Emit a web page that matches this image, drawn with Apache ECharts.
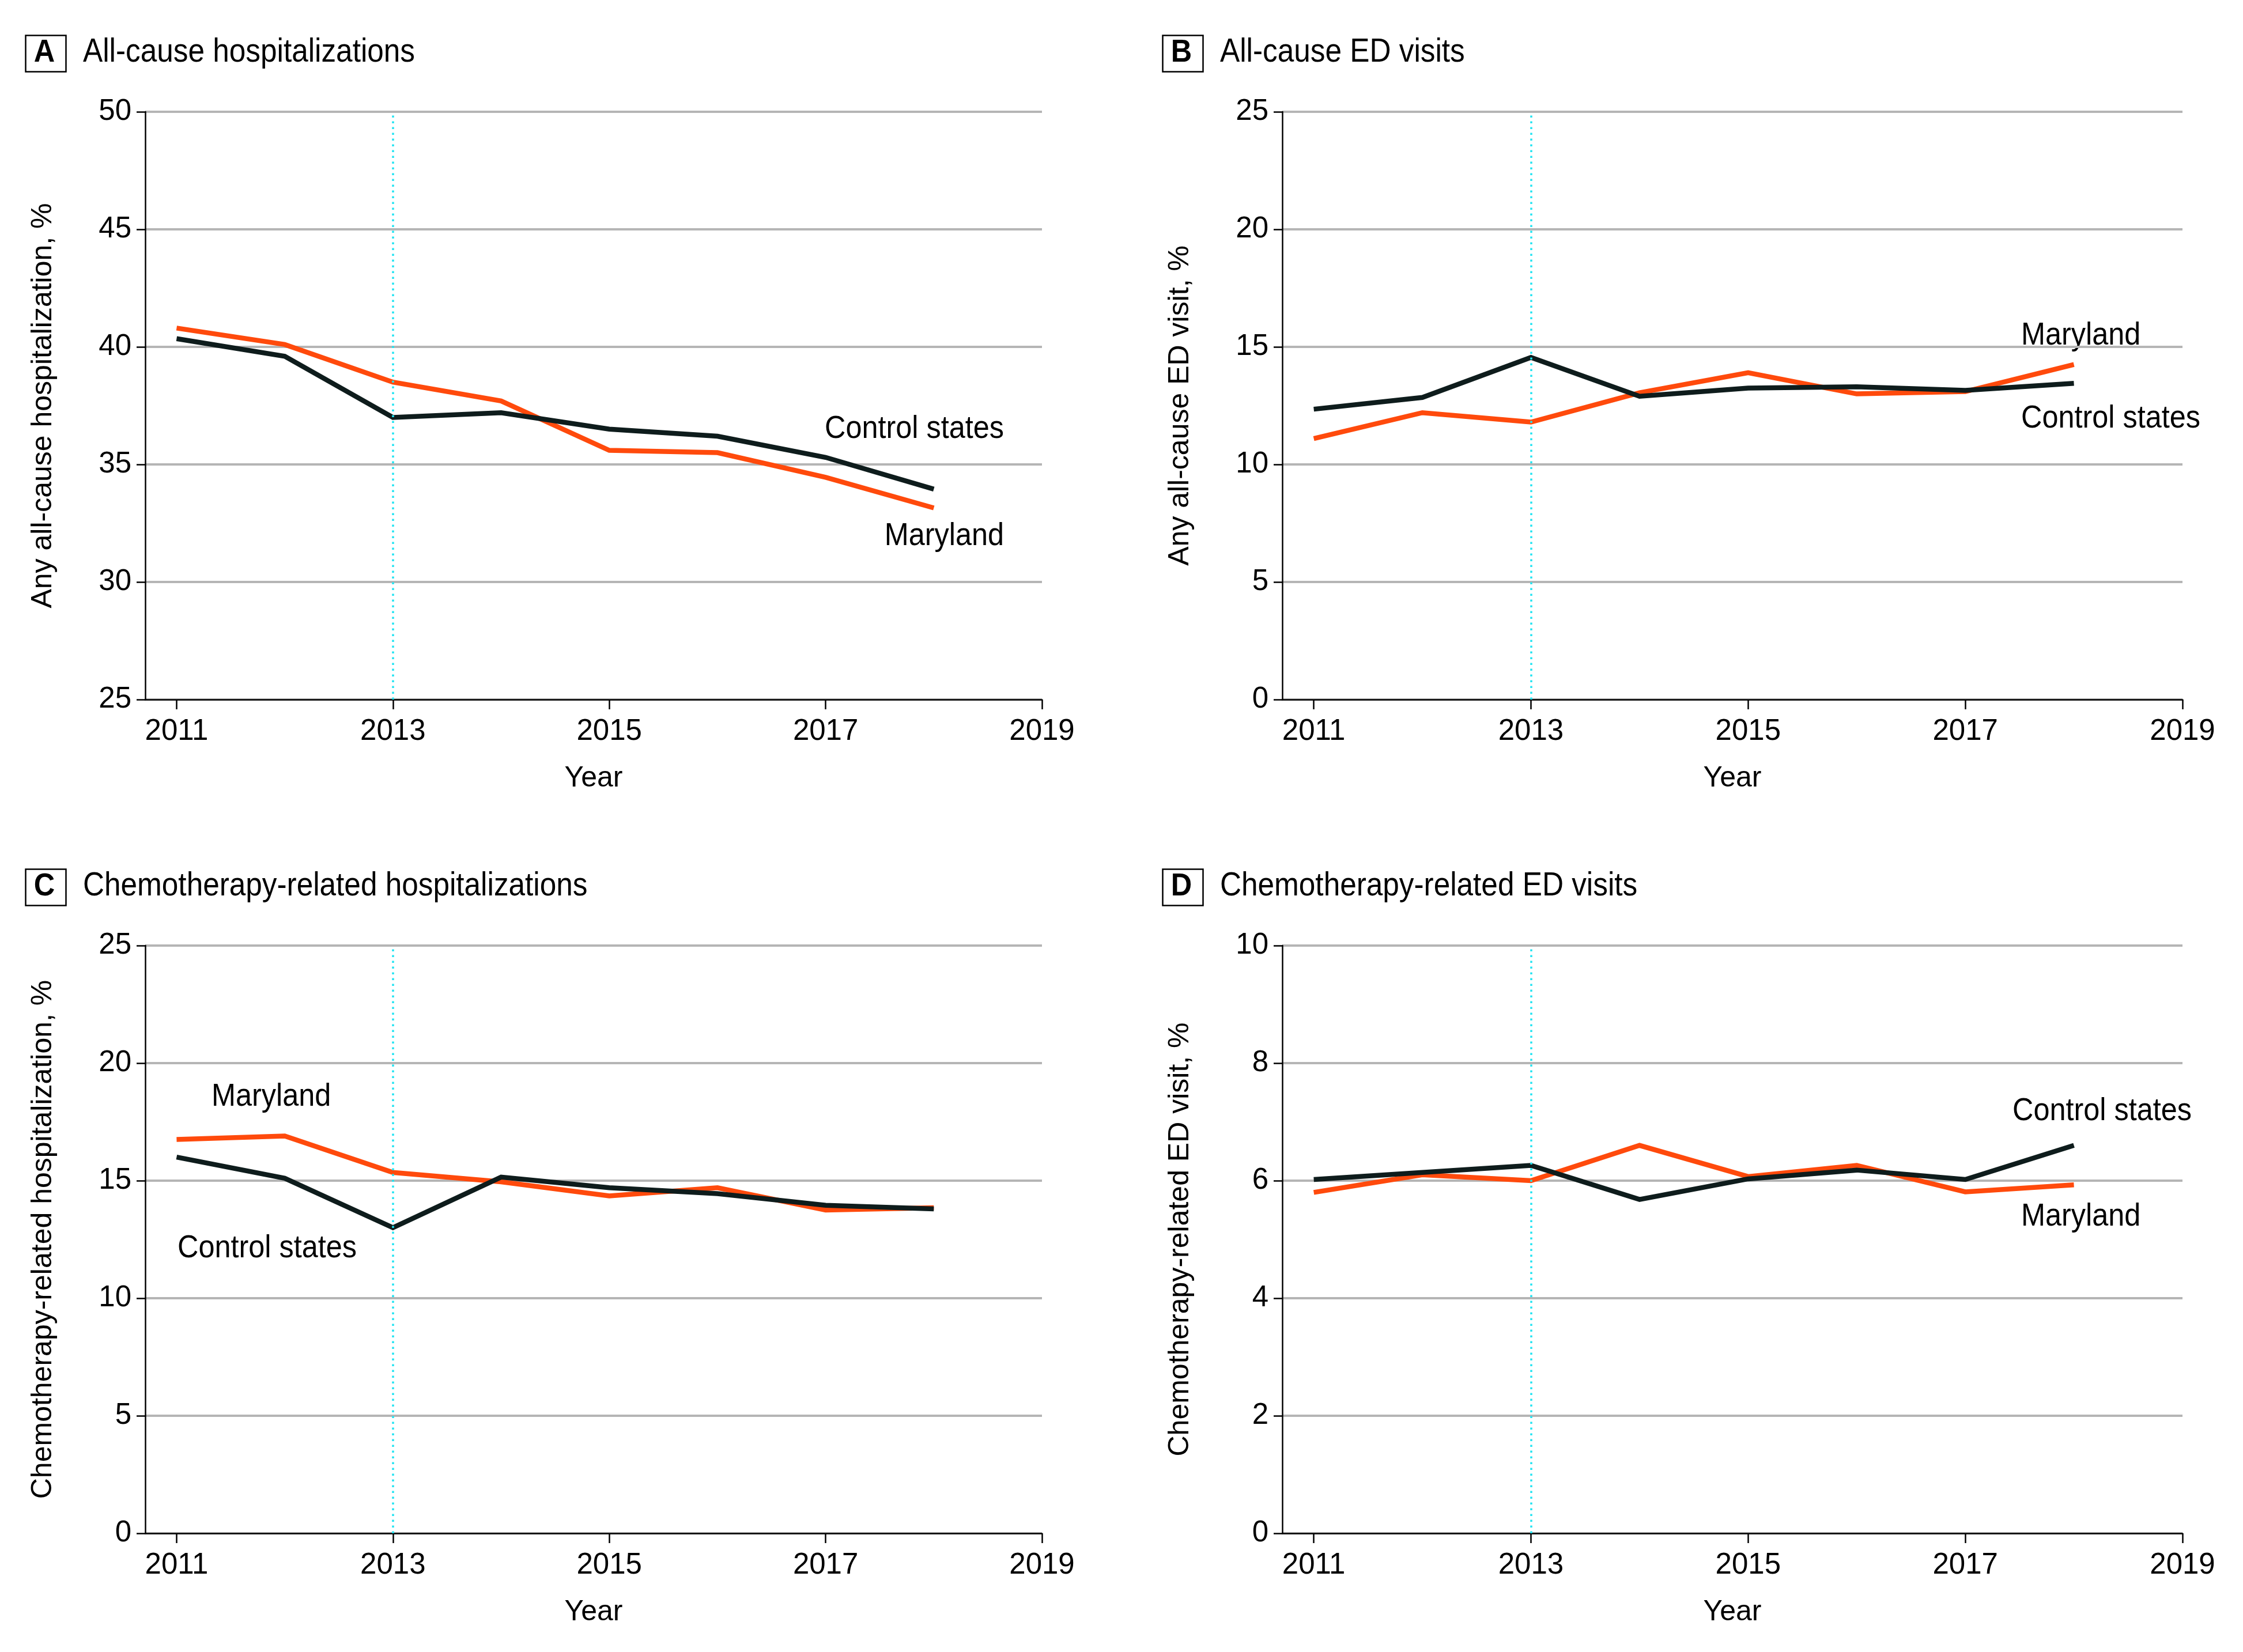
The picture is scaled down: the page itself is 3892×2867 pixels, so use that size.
<!DOCTYPE html>
<html>
<head>
<meta charset="utf-8">
<title>Hospitalizations and ED visits, Maryland vs control states</title>
<script src="https://cdn.jsdelivr.net/npm/echarts@6/dist/echarts.min.js"></script>
<style>
  html, body { margin: 0; padding: 0; background: #fff; }
  #chart { width: 3892px; height: 2867px; }
</style>
</head>
<body>
<div id="chart"></div>
<script>
// Data
const years = [2011, 2012, 2013, 2014, 2015, 2016, 2017, 2018];
const yearTicks = [2011, 2013, 2015, 2017, 2019];

const hospAllMaryland = [40.8, 40.1, 38.5, 37.7, 35.6, 35.5, 34.45, 33.15];
const hospAllControl = [40.35, 39.6, 37.0, 37.2, 36.5, 36.2, 35.3, 33.95];

const edAllMaryland = [11.1, 12.2, 11.8, 13.05, 13.9, 13.0, 13.1, 14.25];
const edAllControl = [12.35, 12.85, 14.55, 12.9, 13.25, 13.3, 13.15, 13.45];

const hospChemoMaryland = [16.75, 16.9, 15.35, 14.95, 14.35, 14.7, 13.75, 13.85];
const hospChemoControl = [16.0, 15.1, 13.0, 15.15, 14.7, 14.45, 13.95, 13.8];

const edChemoMaryland = [5.8, 6.1, 6.0, 6.6, 6.07, 6.26, 5.81, 5.93];
const edChemoControl = [6.02, 6.14, 6.26, 5.68, 6.03, 6.18, 6.02, 6.6];

const policyYear = 2013;

const FONT = "'Liberation Sans', Arial, sans-serif";
const TEXT_SQUEEZE = 0.9;   // reference typeface is condensed
const MD_COLOR = '#ff4a0c';
const CTRL_COLOR = '#0e1c1c';
const GRID_COLOR = '#b5b5b5';
const POLICY_COLOR = '#22e4f2';

// panel layout (pixels)
const panels = [
    { letter: 'A', title: 'All-cause hospitalizations', yName: 'Any all-cause hospitalization, %',
      left: 252, top: 194, width: 1556, yMin: 25, yMax: 50, yStep: 5,
      md: hospAllMaryland, ctrl: hospAllControl,
      labels: [
          { text: 'Control states', x: 1742, y: 745, align: 'right' },
          { text: 'Maryland', x: 1742, y: 931, align: 'right' }
      ] },
    { letter: 'B', title: 'All-cause ED visits', yName: 'Any all-cause ED visit, %',
      left: 2225, top: 194, width: 1562, yMin: 0, yMax: 25, yStep: 5,
      md: edAllMaryland, ctrl: edAllControl,
      labels: [
          { text: 'Maryland', x: 3507, y: 583, align: 'left' },
          { text: 'Control states', x: 3507, y: 727, align: 'left' }
      ] },
    { letter: 'C', title: 'Chemotherapy-related hospitalizations', yName: 'Chemotherapy-related hospitalization, %',
      left: 252, top: 1641, width: 1556, yMin: 0, yMax: 25, yStep: 5,
      md: hospChemoMaryland, ctrl: hospChemoControl,
      labels: [
          { text: 'Maryland', x: 367, y: 1904, align: 'left' },
          { text: 'Control states', x: 308, y: 2167, align: 'left' }
      ] },
    { letter: 'D', title: 'Chemotherapy-related ED visits', yName: 'Chemotherapy-related ED visit, %',
      left: 2225, top: 1641, width: 1562, yMin: 0, yMax: 10, yStep: 2,
      md: edChemoMaryland, ctrl: edChemoControl,
      labels: [
          { text: 'Control states', x: 3492, y: 1929, align: 'left' },
          { text: 'Maryland', x: 3507, y: 2112, align: 'left' }
      ] }
];
const GRID_HEIGHT = 1020;

function pairs(values) {
    return years.map((y, i) => [y, values[i]]);
}

function squeezedText(x, y, text, font, align) {
    return {
        type: 'text', x: x, y: y, scaleX: TEXT_SQUEEZE,
        style: { text: text, font: font, fill: '#000', align: align, verticalAlign: 'middle' }
    };
}

function buildOption() {
    const grid = [], xAxis = [], yAxis = [], series = [], graphic = [];

    panels.forEach((p, i) => {
        grid.push({ left: p.left, top: p.top, width: p.width, height: GRID_HEIGHT });

        xAxis.push({
            type: 'value', gridIndex: i, min: 2010.71, max: 2019,
            name: 'Year', nameLocation: 'middle', nameGap: 112,
            nameTextStyle: { fontFamily: FONT, fontSize: 50, color: '#000' },
            axisLine: { lineStyle: { color: '#000', width: 2.5 } },
            axisTick: { show: true, length: 17, lineStyle: { color: '#000', width: 2.5 }, customValues: yearTicks },
            axisLabel: {
                fontFamily: FONT, fontSize: 51, color: '#000', margin: 30,
                customValues: yearTicks, formatter: v => String(v)
            },
            splitLine: { show: false }
        });

        yAxis.push({
            type: 'value', gridIndex: i, min: p.yMin, max: p.yMax, interval: p.yStep,
            name: p.yName, nameLocation: 'middle', nameGap: 152,
            nameTextStyle: { fontFamily: FONT, fontSize: 50, color: '#000' },
            axisLine: { show: true, lineStyle: { color: '#000', width: 2.5 } },
            axisTick: { show: true, length: 15, lineStyle: { color: '#000', width: 2.5 } },
            axisLabel: { fontFamily: FONT, fontSize: 51, color: '#000', margin: 24 },
            splitLine: { show: true, lineStyle: { color: GRID_COLOR, width: 4 } }
        });

        series.push({
            name: 'Maryland', type: 'line', xAxisIndex: i, yAxisIndex: i,
            data: pairs(p.md), showSymbol: false, silent: true,
            lineStyle: { color: MD_COLOR, width: 8.5, join: 'miter' },
            markLine: {
                silent: true, symbol: 'none', label: { show: false },
                lineStyle: { color: POLICY_COLOR, width: 3.5, type: [3.5, 6.5] },
                data: [{ xAxis: policyYear }]
            },
            z: 3
        });
        series.push({
            name: 'Control states', type: 'line', xAxisIndex: i, yAxisIndex: i,
            data: pairs(p.ctrl), showSymbol: false, silent: true,
            lineStyle: { color: CTRL_COLOR, width: 8.5, join: 'miter' },
            z: 4
        });

        // panel letter box and title
        const boxX = p.left - 210;
        const boxY = p.top - 135;
        graphic.push({
            type: 'rect', left: boxX, top: boxY,
            shape: { width: 70, height: 63 },
            style: { fill: 'none', stroke: '#000', lineWidth: 2.5 }
        });
        graphic.push(squeezedText(boxX + 35, boxY + 33, p.letter, 'bold 56px ' + FONT, 'center'));
        graphic.push(squeezedText(boxX + 102, boxY + 32, p.title, '57px ' + FONT, 'left'));

        // series labels
        p.labels.forEach(l => {
            graphic.push(squeezedText(l.x, l.y, l.text, '56px ' + FONT, l.align));
        });
    });

    return { animation: false, backgroundColor: '#fff', grid, xAxis, yAxis, series, graphic };
}

const chart = echarts.init(document.getElementById('chart'), null, { renderer: 'canvas' });
chart.setOption(buildOption());
</script>
</body>
</html>
